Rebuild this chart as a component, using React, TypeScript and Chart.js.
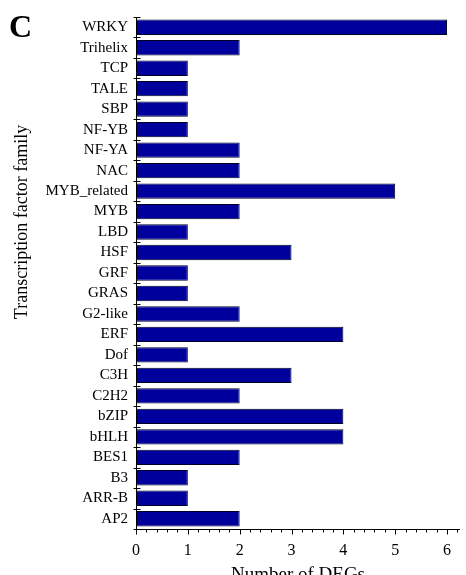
import React, { useEffect, useRef } from "react";
import { Chart, registerables } from "chart.js";

Chart.register(...registerables);

const categories = [
  "WRKY", "Trihelix", "TCP", "TALE", "SBP", "NF-YB", "NF-YA", "NAC",
  "MYB_related", "MYB", "LBD", "HSF", "GRF", "GRAS", "G2-like", "ERF",
  "Dof", "C3H", "C2H2", "bZIP", "bHLH", "BES1", "B3", "ARR-B", "AP2",
];
const degCounts = [6, 2, 1, 1, 1, 1, 2, 2, 5, 2, 1, 3, 1, 1, 2, 4, 1, 3, 2, 4, 4, 2, 1, 1, 2];
const xTickValues = [0, 1, 2, 3, 4, 5, 6];
const xMax = 6.25;
const panelLetter = "C";
const xTitle = "Number of DEGs";
const yTitle = "Transcription factor family";

const SERIF = "'Liberation Serif', 'Times New Roman', serif";

const axesPlugin = {
  id: "customAxes",
  afterDraw(chart: any) {
    const ctx = chart.ctx;
    const { left, right, top, bottom } = chart.chartArea;
    const xs = chart.scales.x;
    ctx.save();
    ctx.strokeStyle = "#000";
    ctx.lineWidth = 1;
    const ax = Math.round(left) + 0.5;
    const ay = Math.round(bottom) + 0.5;
    ctx.beginPath();
    ctx.moveTo(ax, top);
    ctx.lineTo(ax, ay);
    ctx.lineTo(right, ay);
    ctx.stroke();
    const n = categories.length;
    const band = (bottom - top) / n;
    ctx.beginPath();
    for (let i = 0; i <= n; i++) {
      const y = Math.round(top + i * band) + 0.5;
      ctx.moveTo(ax - 3, y);
      ctx.lineTo(ax + 4, y);
    }
    ctx.stroke();
    ctx.beginPath();
    for (let k = 0; k <= Math.floor(xMax * 5 + 1e-6); k++) {
      const v = k / 5;
      const x = Math.round(xs.getPixelForValue(v)) + 0.5;
      const major = k % 5 === 0;
      ctx.moveTo(x, ay);
      ctx.lineTo(x, ay + (major ? 5 : 3));
    }
    ctx.stroke();
    ctx.fillStyle = "#000";
    ctx.font = `19px ${SERIF}`;
    ctx.textAlign = "center";
    ctx.textBaseline = "alphabetic";
    ctx.fillText(xTitle, (left + right) / 2, 580);
    ctx.save();
    ctx.translate(27, 222);
    ctx.rotate(-Math.PI / 2);
    ctx.font = `18px ${SERIF}`;
    ctx.fillText(yTitle, 0, 0);
    ctx.restore();
    ctx.font = `bold 32px ${SERIF}`;
    ctx.textAlign = "left";
    ctx.fillText(panelLetter, 9, 37);
    ctx.restore();
  },
};

export default function App() {
  const canvasRef = useRef<HTMLCanvasElement | null>(null);

  useEffect(() => {
    if (!canvasRef.current) return;
    const chart = new Chart(canvasRef.current, {
      type: "bar",
      data: {
        labels: categories,
        datasets: [
          {
            data: degCounts,
            backgroundColor: "#00009C",
            borderColor: "#000022",
            borderWidth: 1,
            barPercentage: 0.75,
            categoryPercentage: 1,
          },
        ],
      },
      options: {
        indexAxis: "y",
        animation: false,
        responsive: false,
        maintainAspectRatio: false,
        layout: { padding: { left: 0, top: 13, right: 6, bottom: 0 } },
        plugins: {
          legend: { display: false },
          tooltip: { enabled: false },
          title: { display: false },
        },
        scales: {
          x: {
            min: 0,
            max: xMax,
            afterBuildTicks(scale: any) {
              scale.ticks = xTickValues.map((v) => ({ value: v }));
            },
            afterFit(scale: any) {
              scale.height = 46;
            },
            grid: { display: false, drawTicks: false },
            border: { display: false },
            ticks: {
              padding: 12,
              color: "#000",
              font: { family: SERIF, size: 16 },
              maxRotation: 0,
              autoSkip: false,
            },
          },
          y: {
            afterFit(scale: any) {
              scale.width = 136;
            },
            grid: { display: false, drawTicks: false },
            border: { display: false },
            ticks: {
              padding: 8,
              color: "#000",
              font: { family: SERIF, size: 15 },
              autoSkip: false,
            },
          },
        },
      },
      plugins: [axesPlugin],
    });
    return () => chart.destroy();
  }, []);

  return (
    <div style={{ position: "fixed", left: 0, top: 0, width: 466, height: 575, background: "#fff" }}>
      <canvas ref={canvasRef} width={466} height={575} style={{ display: "block" }} />
    </div>
  );
}
